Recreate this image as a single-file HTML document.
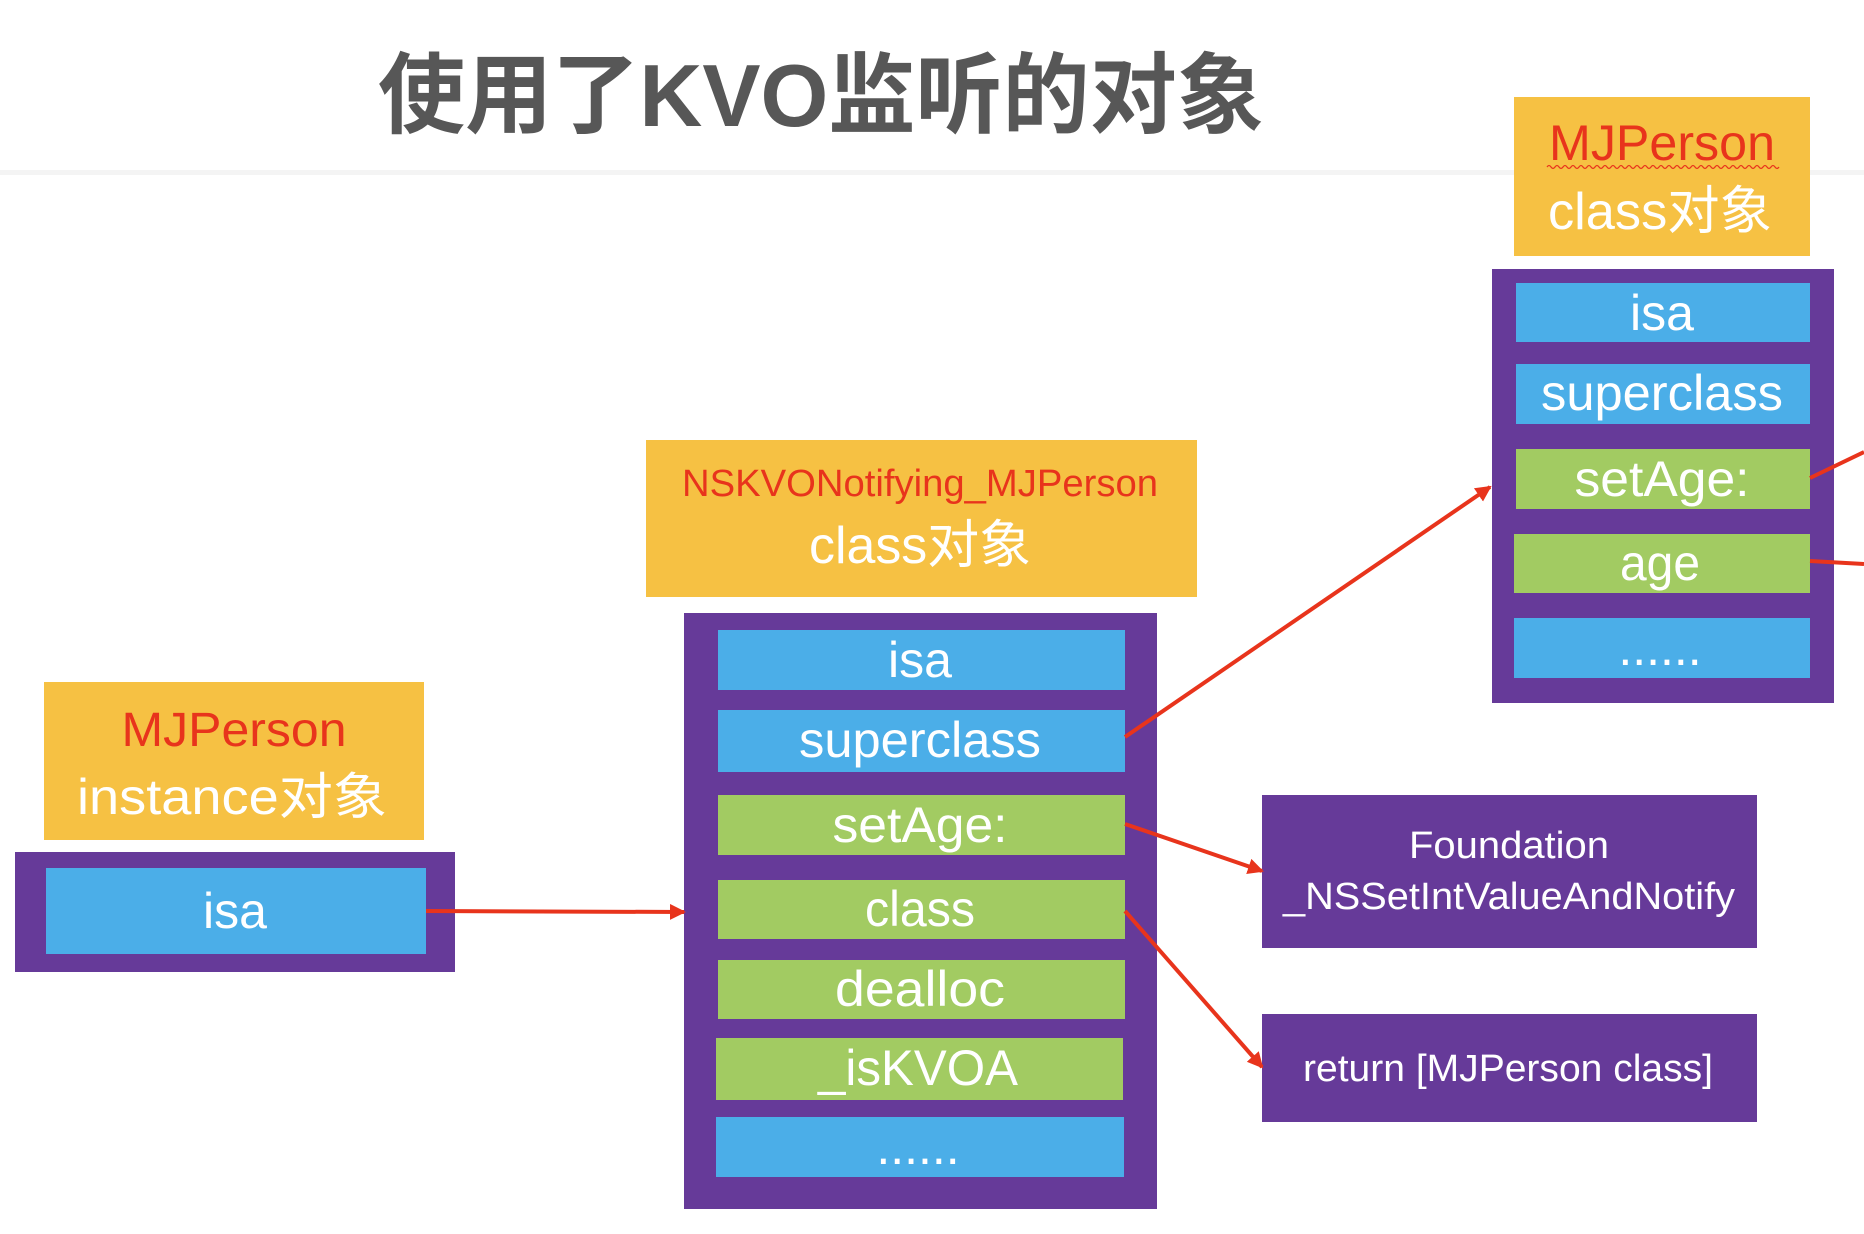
<!DOCTYPE html>
<html><head><meta charset="utf-8"><style>
html,body{margin:0;padding:0;background:#fff;}
svg{display:block;}
text{font-family:"Liberation Sans","Noto Sans CJK SC",sans-serif;text-anchor:middle;}
</style></head><body>
<svg width="1864" height="1234" viewBox="0 0 1864 1234" xmlns="http://www.w3.org/2000/svg">
<defs>
<marker id="ah2" markerWidth="16" markerHeight="16" refX="14" refY="8" orient="auto" markerUnits="userSpaceOnUse">
<path d="M0,0 L16,8 L0,16 z" fill="#e8341c"/>
</marker>
</defs>
<rect x="0" y="170" width="1864" height="5" fill="#f4f4f4"/>
<text x="821" y="126" font-size="88" font-weight="bold" fill="#575757" font-family="'Noto Sans CJK SC',sans-serif" textLength="886" lengthAdjust="spacingAndGlyphs">使用了KVO监听的对象</text>

<!-- instance -->
<rect x="44" y="682" width="380" height="158" fill="#f6c143"/>
<text x="234" y="746" font-size="48" fill="#e8341c" textLength="225" lengthAdjust="spacingAndGlyphs">MJPerson</text>
<text x="232" y="814" font-size="50" fill="#fff" textLength="310" lengthAdjust="spacingAndGlyphs">instance对象</text>
<rect x="15" y="852" width="440" height="120" fill="#663a99"/>
<rect x="46" y="868" width="380" height="86" fill="#4baee8"/>
<text x="235" y="928" font-size="50" fill="#fff">isa</text>

<!-- middle -->
<rect x="646" y="440" width="551" height="157" fill="#f6c143"/>
<text x="920" y="496" font-size="38" fill="#e8341c" textLength="476" lengthAdjust="spacingAndGlyphs">NSKVONotifying_MJPerson</text>
<text x="920" y="563" font-size="52" fill="#fff" textLength="222" lengthAdjust="spacingAndGlyphs">class对象</text>
<rect x="684" y="613" width="473" height="596" fill="#663a99"/>
<rect x="718" y="630" width="407" height="60" fill="#4baee8"/>
<text x="920" y="677" font-size="50" fill="#fff">isa</text>
<rect x="718" y="710" width="407" height="62" fill="#4baee8"/>
<text x="920" y="757" font-size="50" fill="#fff" textLength="242" lengthAdjust="spacingAndGlyphs">superclass</text>
<rect x="718" y="795" width="407" height="60" fill="#a2cb62"/>
<text x="920" y="842" font-size="50" fill="#fff" textLength="175" lengthAdjust="spacingAndGlyphs">setAge:</text>
<rect x="718" y="880" width="407" height="59" fill="#a2cb62"/>
<text x="920" y="926" font-size="50" fill="#fff" textLength="110" lengthAdjust="spacingAndGlyphs">class</text>
<rect x="718" y="960" width="407" height="59" fill="#a2cb62"/>
<text x="920" y="1006" font-size="50" fill="#fff" textLength="170" lengthAdjust="spacingAndGlyphs">dealloc</text>
<rect x="716" y="1038" width="407" height="62" fill="#a2cb62"/>
<text x="918" y="1085" font-size="50" fill="#fff" textLength="200" lengthAdjust="spacingAndGlyphs">_isKVOA</text>
<rect x="716" y="1117" width="408" height="60" fill="#4baee8"/>
<text x="918" y="1164" font-size="50" fill="#fff">......</text>

<!-- right -->
<rect x="1514" y="97" width="296" height="159" fill="#f6c143"/>
<text x="1662" y="160" font-size="50" fill="#e8341c" textLength="226" lengthAdjust="spacingAndGlyphs">MJPerson</text>
<path d="M1547,167 q2,-3 4,0 t4,0 t4,0 t4,0 t4,0 t4,0 t4,0 t4,0 t4,0 t4,0 t4,0 t4,0 t4,0 t4,0 t4,0 t4,0 t4,0 t4,0 t4,0 t4,0 t4,0 t4,0 t4,0 t4,0 t4,0 t4,0 t4,0 t4,0 t4,0 t4,0 t4,0 t4,0 t4,0 t4,0 t4,0 t4,0 t4,0 t4,0 t4,0 t4,0 t4,0 t4,0 t4,0 t4,0 t4,0 t4,0 t4,0 t4,0 t4,0 t4,0 t4,0 t4,0 t4,0 t4,0 t4,0 t4,0 t4,0 t4,0" stroke="#e8341c" stroke-width="1.2" fill="none"/>
<text x="1660" y="229" font-size="52" fill="#fff" textLength="224" lengthAdjust="spacingAndGlyphs">class对象</text>
<rect x="1492" y="269" width="342" height="434" fill="#663a99"/>
<rect x="1516" y="283" width="294" height="59" fill="#4baee8"/>
<text x="1662" y="330" font-size="50" fill="#fff">isa</text>
<rect x="1516" y="364" width="294" height="60" fill="#4baee8"/>
<text x="1662" y="410" font-size="50" fill="#fff" textLength="242" lengthAdjust="spacingAndGlyphs">superclass</text>
<rect x="1516" y="449" width="294" height="60" fill="#a2cb62"/>
<text x="1662" y="496" font-size="50" fill="#fff" textLength="175" lengthAdjust="spacingAndGlyphs">setAge:</text>
<rect x="1514" y="534" width="296" height="59" fill="#a2cb62"/>
<text x="1660" y="580" font-size="50" fill="#fff" textLength="80" lengthAdjust="spacingAndGlyphs">age</text>
<rect x="1514" y="618" width="296" height="60" fill="#4baee8"/>
<text x="1660" y="665" font-size="50" fill="#fff">......</text>

<!-- method boxes -->
<rect x="1262" y="795" width="495" height="153" fill="#663a99"/>
<text x="1509" y="858" font-size="38" fill="#fff" textLength="200" lengthAdjust="spacingAndGlyphs">Foundation</text>
<text x="1509" y="909" font-size="38" fill="#fff" textLength="452" lengthAdjust="spacingAndGlyphs">_NSSetIntValueAndNotify</text>
<rect x="1262" y="1014" width="495" height="108" fill="#663a99"/>
<text x="1508" y="1081" font-size="38" fill="#fff" textLength="410" lengthAdjust="spacingAndGlyphs">return [MJPerson class]</text>

<!-- arrows -->
<g stroke="#e8341c" stroke-width="4" fill="none">
<line x1="426" y1="911" x2="684" y2="912" marker-end="url(#ah2)"/>
<line x1="1125" y1="737" x2="1490" y2="487" marker-end="url(#ah2)"/>
<line x1="1125" y1="824" x2="1262" y2="871" marker-end="url(#ah2)"/>
<line x1="1125" y1="911" x2="1262" y2="1067" marker-end="url(#ah2)"/>
<line x1="1810" y1="478" x2="1864" y2="452"/>
<line x1="1810" y1="561" x2="1864" y2="564"/>
</g>
</svg>
</body></html>
